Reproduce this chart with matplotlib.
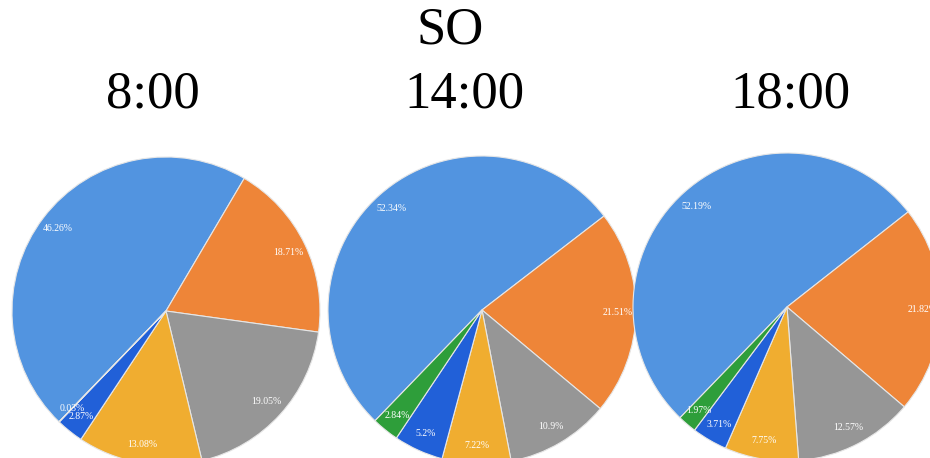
import matplotlib.pyplot as plt

# Share of each category at three times of day (SO)
times = ["8:00", "14:00", "18:00"]
share_0800 = [46.26, 18.71, 19.05, 13.08, 2.87, 0.03]
share_1400 = [52.34, 21.51, 10.9, 7.22, 5.2, 2.84]
share_1800 = [52.19, 21.82, 12.57, 7.75, 3.71, 1.97]
slice_colors = ["#5294E0", "#EE8538", "#969696", "#F0AD30", "#2160D8", "#2E9E3A"]

W, H = 930, 458
fig = plt.figure(figsize=(W / 100, H / 100), dpi=100)
ax = fig.add_axes([0, 0, 1, 1])

# pie centres in pixel space (y measured from the bottom)
centers = [(166, 147), (482, 148), (787, 151)]
title_x = [153, 464, 790]
radius = 154
serif = "Liberation Serif"

for vals, (cx, cy), tx, t in zip([share_0800, share_1400, share_1800],
                                 centers, title_x, times):
    labels = [f"{v:g}%" for v in vals]
    ax.pie(vals, colors=slice_colors, labels=labels, labeldistance=0.88,
           startangle=-134, counterclock=False, center=(cx, cy), radius=radius,
           wedgeprops=dict(edgecolor="#E6E6E6", linewidth=0.8),
           textprops=dict(color="white", fontsize=7, family=serif,
                          ha="center", va="center"))
    ax.text(tx, H - 94, t, ha="center", va="center", fontsize=38, family=serif)

ax.text(450, H - 31, "SO", ha="center", va="center", fontsize=38, family=serif)

ax.set_xlim(0, W)
ax.set_ylim(0, H)
ax.set_aspect("equal")
ax.axis("off")

fig.savefig("out.png", dpi=100)
